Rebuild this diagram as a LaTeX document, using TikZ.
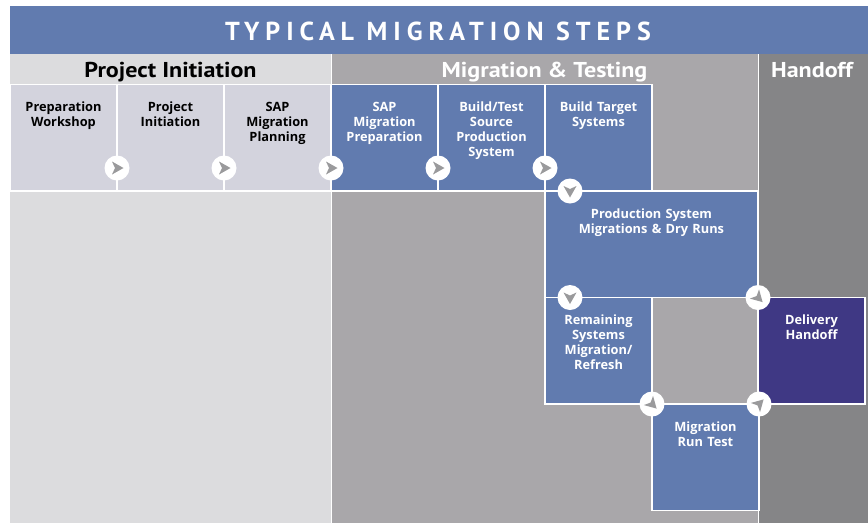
\documentclass[tikz,border=0pt]{standalone}
\usepackage{fontspec}
\setmainfont{PT Sans}
\newfontfamily\boxfont{Open Sans}
\newfontfamily\hdrfont[FakeStretch=1.12]{PT Sans}
\definecolor{tblue}{HTML}{617BAF}
\definecolor{lightpanel}{HTML}{DCDCDE}
\definecolor{lightbox}{HTML}{D3D3DD}
\definecolor{midpanel}{HTML}{A9A7AA}
\definecolor{darkpanel}{HTML}{858587}
\definecolor{dpurple}{HTML}{3F3884}
\definecolor{arrgray}{HTML}{9A9A9C}
\tikzset{
  stepbox/.style={rectangle, draw=white, line width=1.5pt, minimum width=107, minimum height=106.5, anchor=north west, inner sep=0pt, outer sep=0pt},
  lbl/.style={anchor=base, align=center, text width=104pt, inner sep=0pt, font=\boxfont\bfseries\fontsize{12.8}{15}\selectfont},
  hdr/.style={anchor=base, inner sep=0pt, font=\hdrfont\bfseries\fontsize{21.5}{24}\selectfont},
  circ/.style={circle, fill=white, minimum size=25pt, inner sep=0pt},
  arr/.pic={\fill[arrgray] (6.5,0) -- (-5,-6.5) -- (-2,0) -- (-5,6.5) -- cycle;}
}
\begin{document}
\begin{tikzpicture}[x=1pt,y=-1pt]
\useasboundingbox (0,0) rectangle (868,523);
% panels
\fill[lightpanel] (10,54) rectangle (331,523);
\fill[midpanel] (331,54) rectangle (758,523);
\fill[darkpanel] (758,54) rectangle (868,523);
\draw[white, line width=1pt] (331,54) -- (331,523) (758,54) -- (758,523);
\fill[tblue] (10,6) rectangle (868,54);
% title and headers
\node[anchor=base, inner sep=0pt, text=white, font=\bfseries\fontsize{26}{28}\selectfont\addfontfeatures{LetterSpace=23}] (title) at (438,40) {TYPICAL MIGRATION STEPS};
\node[hdr, text=black] (h1) at (170.5,77) {Project Initiation};
\node[hdr, text=white] (h2) at (544.5,77) {Migration \& Testing};
\node[hdr, text=white] (h3) at (812,77) {Handoff};
% boxes
\node[stepbox, fill=lightbox] (b1) at (10,84.5) {};
\node[stepbox, fill=lightbox] (b2) at (117,84.5) {};
\node[stepbox, fill=lightbox] (b3) at (224,84.5) {};
\node[stepbox, fill=tblue] (b4) at (331,84.5) {};
\node[stepbox, fill=tblue] (b5) at (438,84.5) {};
\node[stepbox, fill=tblue] (b6) at (545,84.5) {};
\node[stepbox, fill=tblue, minimum width=213] (b7) at (545,191) {};
\node[stepbox, fill=tblue] (b8) at (545,297.5) {};
\node[stepbox, fill=dpurple] (b9) at (758,297.5) {};
\node[stepbox, fill=tblue] (b10) at (652,404) {};
% labels
\node[lbl, text=black] (t1) at ([yshift=-27pt]b1.north) {Preparation\\Workshop};
\node[lbl, text=black] (t2) at ([yshift=-27pt]b2.north) {Project\\Initiation};
\node[lbl, text=black] (t3) at ([yshift=-27pt]b3.north) {SAP\\Migration\\Planning};
\node[lbl, text=white] (t4) at ([yshift=-27pt]b4.north) {SAP\\Migration\\Preparation};
\node[lbl, text=white] (t5) at ([yshift=-27pt]b5.north) {Build/Test\\Source\\Production\\System};
\node[lbl, text=white] (t6) at ([yshift=-27pt]b6.north) {Build Target\\Systems};
\node[lbl, text=white, text width=200pt] (t7) at ([yshift=-27pt]b7.north) {Production System\\Migrations \& Dry Runs};
\node[lbl, text=white] (t8) at ([yshift=-27pt]b8.north) {Remaining\\Systems\\Migration/\\Refresh};
\node[lbl, text=white] (t9) at ([yshift=-27pt]b9.north) {Delivery\\Handoff};
\node[lbl, text=white] (t10) at ([yshift=-27pt]b10.north) {Migration\\Run Test};
% connector markers
\node[circ] (c1) at ([yshift=23pt]b1.south east) {};
\node[circ] (c2) at ([yshift=23pt]b2.south east) {};
\node[circ] (c3) at ([yshift=23pt]b3.south east) {};
\node[circ] (c4) at ([yshift=23pt]b4.south east) {};
\node[circ] (c5) at ([yshift=23pt]b5.south east) {};
\node[circ] (c6) at ([xshift=25pt]b7.north west) {};
\node[circ] (c7) at ([xshift=25pt]b8.north west) {};
\node[circ] (c8) at (b9.north west) {};
\node[circ] (c9) at (b10.north west) {};
\node[circ] (c10) at (b10.north east) {};
\foreach \c in {c1,c2,c3,c4,c5} {\pic at (\c) {arr};}
\pic[rotate=-90] at (c6) {arr};
\pic[rotate=-90] at (c7) {arr};
\pic[rotate=-45] at (c8) {arr};
\pic[rotate=-45] at (c9) {arr};
\pic[rotate=45] at (c10) {arr};
\end{tikzpicture}
\end{document}
